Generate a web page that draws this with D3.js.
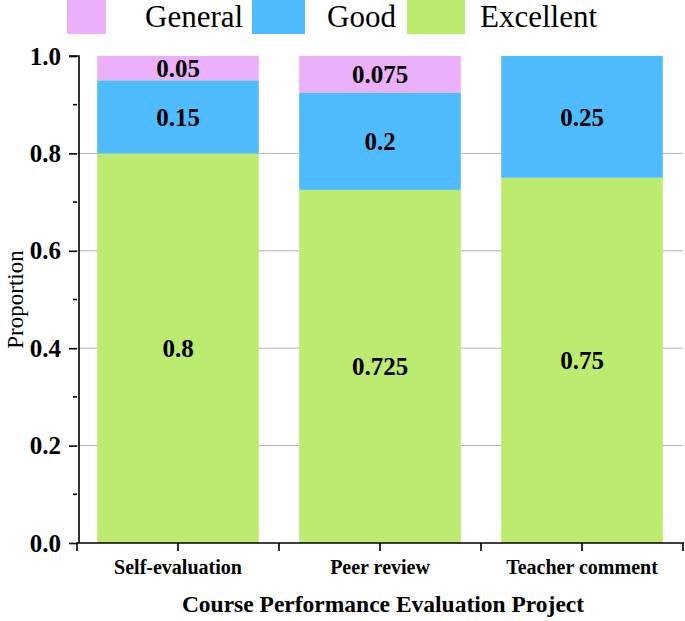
<!DOCTYPE html>
<html><head><meta charset="utf-8">
<script src="https://cdn.jsdelivr.net/npm/d3@7"></script>
<style>body{margin:0;background:#fff}svg{display:block}</style>
</head><body>
<svg id="c" width="685" height="621"></svg>
<script>
const categories = ["Self-evaluation", "Peer review", "Teacher comment"];
const seriesNames = ["Excellent", "Good", "General"];
const excellent = [0.8, 0.725, 0.75];
const good = [0.15, 0.2, 0.25];
const general = [0.05, 0.075, 0];
const yTicks = [0, 0.2, 0.4, 0.6, 0.8, 1.0];
const colors = {Excellent: "#bceb70", Good: "#4fbcff", General: "#ebb0f9"};

const svg = d3.select("#c");
const font = "Liberation Serif";
const m = {left: 77, right: 2, top: 56, bottom: 78};
const W = 685, H = 621;
const x = d3.scaleBand().domain(categories).range([m.left, W - m.right]).paddingInner(0.2).paddingOuter(0.1);
const xb = d3.scaleBand().domain(categories).range([m.left, W - m.right]);
const y = d3.scaleLinear().domain([0, 1]).range([H - m.bottom, m.top]);

// gridlines
svg.append("g").selectAll("line").data([0.2, 0.4, 0.6, 0.8]).join("line")
  .attr("x1", m.left).attr("x2", W - m.right)
  .attr("y1", d => y(d)).attr("y2", d => y(d))
  .attr("stroke", "#b4b4b4").attr("stroke-width", 1);

const data = categories.map((c, i) => ({cat: c, Excellent: excellent[i], Good: good[i], General: general[i]}));
const stack = d3.stack().keys(seriesNames)(data);

const g = svg.append("g");
stack.forEach(s => {
  s.forEach(d => {
    const v = d.data[s.key];
    if (v <= 0) return;
    g.append("rect")
      .attr("x", x(d.data.cat)).attr("width", x.bandwidth())
      .attr("y", y(d[1])).attr("height", y(d[0]) - y(d[1]))
      .attr("fill", colors[s.key]);
    g.append("text")
      .attr("x", x(d.data.cat) + x.bandwidth() / 2)
      .attr("y", y((d[0] + d[1]) / 2))
      .attr("dy", "0.35em").attr("text-anchor", "middle")
      .attr("font-family", font).attr("font-weight", "bold").attr("font-size", 25)
      .text(String(v));
  });
});

// y axis
const ya = svg.append("g").attr("transform", `translate(${m.left},0)`)
  .call(d3.axisLeft(y).tickValues(yTicks).tickFormat(d3.format(".1f")).tickSize(8).tickPadding(8));
ya.select(".domain").attr("stroke", "#000").attr("stroke-width", 1.6).attr("d", `M-8,${y(1)}H2V${y(0)}`);
ya.selectAll(".tick line").attr("stroke", "#000").attr("stroke-width", 1.6);
ya.selectAll(".tick text").attr("font-family", font).attr("font-weight", "bold").attr("font-size", 25).attr("fill", "#000");
// minor ticks
svg.append("g").selectAll("line").data([0.1, 0.3, 0.5, 0.7, 0.9]).join("line")
  .attr("x1", m.left - 4).attr("x2", m.left).attr("y1", d => y(d)).attr("y2", d => y(d))
  .attr("stroke", "#000").attr("stroke-width", 1.6);

// x axis
const xa = svg.append("g").attr("transform", `translate(0,${y(0)})`)
  .call(d3.axisBottom(x).tickSize(0).tickPadding(17));
xa.select(".domain").remove();
xa.selectAll(".tick text").attr("font-family", font).attr("font-weight", "bold").attr("font-size", 20).attr("fill", "#000");
svg.append("line").attr("x1", m.left - 1).attr("x2", W - m.right + 1).attr("y1", y(0)).attr("y2", y(0))
  .attr("stroke", "#000").attr("stroke-width", 1.6);
const tickXs = categories.map(c => xb(c) + xb.bandwidth() / 2).concat(categories.map(c => xb(c)), [W - m.right]);
svg.append("g").selectAll("line").data(tickXs).join("line")
  .attr("x1", d => d).attr("x2", d => d).attr("y1", y(0)).attr("y2", y(0) + 8)
  .attr("stroke", "#000").attr("stroke-width", 1.6);

// axis titles
svg.append("text").attr("x", 383).attr("y", 612).attr("text-anchor", "middle")
  .attr("font-family", font).attr("font-weight", "bold").attr("font-size", 23.5).text("Course Performance Evaluation Project");
svg.append("text").attr("transform", `translate(23,${(y(0) + y(1)) / 2}) rotate(-90)`).attr("text-anchor", "middle")
  .attr("font-family", font).attr("font-size", 23).text("Proportion");

// legend
const legend = [{k: "General", x: 67, w: 39, tx: 145}, {k: "Good", x: 252, w: 53, tx: 327}, {k: "Excellent", x: 407, w: 58, tx: 480}];
const lg = svg.append("g");
legend.forEach(l => {
  lg.append("rect").attr("x", l.x).attr("y", 0).attr("width", l.w).attr("height", 34).attr("fill", colors[l.k]);
  lg.append("text").attr("x", l.tx).attr("y", 27).attr("font-family", font).attr("font-size", 31).text(l.k);
});
</script>
</body></html>
